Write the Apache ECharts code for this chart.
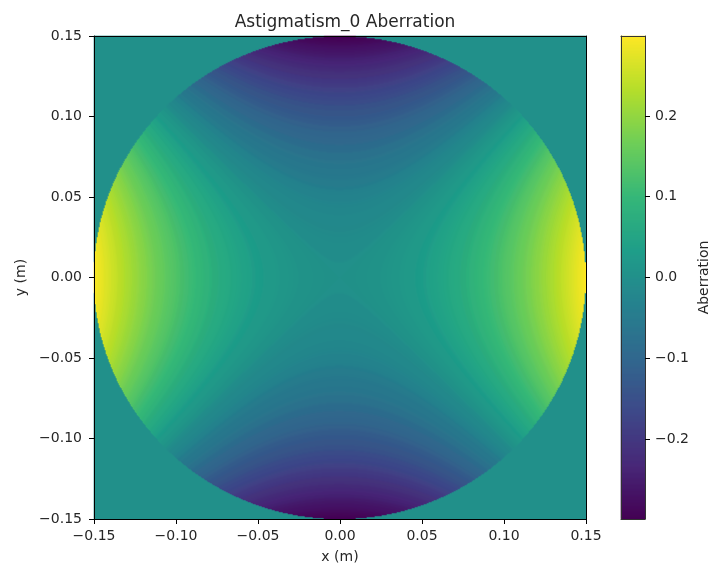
<!DOCTYPE html>
<html>
<head>
<meta charset="utf-8">
<script src="https://cdn.jsdelivr.net/npm/echarts@6/dist/echarts.min.js"></script>
<style>
  html, body { margin: 0; padding: 0; background: #fff; }
  #chart { width: 715px; height: 571px; }
</style>
</head>
<body>
<div id="chart"></div>
<script>
// Aperture and astigmatism term
const apertureRadius = 0.15;          // m
const astigmatismPeak = 0.299;        // aberration at the rim along x
const colorMin = -0.299;
const colorMax = 0.299;
const samplesX = 492;                 // samples across x in [-0.15, 0.15]
const samplesY = 483;                 // samples across y in [-0.15, 0.15]

// Tick labels
const xTicks = [-0.15, -0.10, -0.05, 0.00, 0.05, 0.10, 0.15];
const yTicks = [-0.15, -0.10, -0.05, 0.00, 0.05, 0.10, 0.15];
const colorbarTicks = [-0.2, -0.1, 0.0, 0.1, 0.2];

// viridis, evenly spaced stops
const viridis = ['#440154', '#482878', '#3e4989', '#31688e', '#26828e',
                 '#1f9e89', '#35b779', '#6ece58', '#b5de2b', '#fde725'];

const FONT = 'DejaVu Sans';
const TEXT = '#262626';
const minus = s => s.replace('-', '\u2212');

// Sample the astigmatism surface (x^2 - y^2) over the circular pupil
const stepX = 2 * apertureRadius / samplesX;
const stepY = 2 * apertureRadius / samplesY;
const R2 = apertureRadius * apertureRadius;
const xIdx = [];
for (let i = 0; i < samplesX; i++) xIdx.push(i);
const yIdx = [];
for (let j = 0; j < samplesY; j++) yIdx.push(j);
const fieldData = [];
for (let i = 0; i < samplesX; i++) {
  const x = -apertureRadius + (i + 0.5) * stepX;
  for (let j = 0; j < samplesY; j++) {
    const y = -apertureRadius + (j + 0.5) * stepY;
    const r2 = x * x + y * y;
    const v = r2 <= R2 ? astigmatismPeak * (x * x - y * y) / R2 : 0;
    fieldData.push([i, j, v]);
  }
}

// Colorbar column
const barSamples = 483;
const barIdx = [];
const barData = [];
for (let k = 0; k < barSamples; k++) {
  barIdx.push(k);
  barData.push([0, k, colorMin + (k + 0.5) * (colorMax - colorMin) / barSamples]);
}

const axisLineStyle = { show: true, onZero: false, lineStyle: { color: '#000', width: 1 } };
const barLineStyle = { show: true, onZero: false, lineStyle: { color: '#333', width: 1 } };
const tickStyle = { show: true, length: 5, lineStyle: { color: '#000', width: 1 } };
const labelFont = { fontFamily: FONT, fontSize: 14, color: TEXT };

const chart = echarts.init(document.getElementById('chart'), null, { renderer: 'canvas' });
chart.setOption({
  animation: false,
  backgroundColor: '#fff',
  title: {
    text: 'Astigmatism_0 Aberration',
    left: 340, top: 9, textAlign: 'center',
    textStyle: { fontFamily: FONT, fontSize: 17, fontWeight: 'normal', color: TEXT }
  },
  grid: [
    { left: 94, top: 36, width: 492, height: 483 },
    { left: 621, top: 36, width: 24, height: 483 }
  ],
  visualMap: {
    show: false, type: 'continuous', min: colorMin, max: colorMax,
    seriesIndex: [0, 1], dimension: 2,
    inRange: { color: viridis }
  },
  xAxis: [
    { type: 'category', gridIndex: 0, data: xIdx, show: false },
    { type: 'value', gridIndex: 0, min: -0.15, max: 0.15, position: 'bottom', z: 10,
      axisLine: axisLineStyle,
      axisTick: { ...tickStyle, customValues: xTicks },
      axisLabel: { ...labelFont, margin: 10, customValues: xTicks,
                   formatter: v => minus(v.toFixed(2)) },
      splitLine: { show: false },
      name: 'x (m)', nameLocation: 'middle', nameGap: 31,
      nameTextStyle: labelFont },
    { type: 'value', gridIndex: 0, min: -0.15, max: 0.15, position: 'top', z: 10,
      axisLine: axisLineStyle, axisTick: { show: false }, axisLabel: { show: false },
      splitLine: { show: false } },
    { type: 'category', gridIndex: 1, data: [0], show: false },
    { type: 'value', gridIndex: 1, min: 0, max: 1, position: 'bottom', z: 10,
      axisLine: barLineStyle,
      axisTick: { show: false }, axisLabel: { show: false }, splitLine: { show: false } },
    { type: 'value', gridIndex: 1, min: 0, max: 1, position: 'top', z: 10,
      axisLine: barLineStyle,
      axisTick: { show: false }, axisLabel: { show: false }, splitLine: { show: false } }
  ],
  yAxis: [
    { type: 'category', gridIndex: 0, data: yIdx, show: false },
    { type: 'value', gridIndex: 0, min: -0.15, max: 0.15, position: 'left', z: 10,
      axisLine: axisLineStyle,
      axisTick: { ...tickStyle, customValues: yTicks },
      axisLabel: { ...labelFont, margin: 12, customValues: yTicks,
                   formatter: v => minus(v.toFixed(2)) },
      splitLine: { show: false },
      name: 'y (m)', nameLocation: 'middle', nameGap: 66, nameRotate: 90,
      nameTextStyle: labelFont },
    { type: 'value', gridIndex: 0, min: -0.15, max: 0.15, position: 'right', z: 10,
      axisLine: axisLineStyle, axisTick: { show: false }, axisLabel: { show: false },
      splitLine: { show: false } },
    { type: 'category', gridIndex: 1, data: barIdx, show: false },
    { type: 'value', gridIndex: 1, min: colorMin, max: colorMax, position: 'right', z: 10,
      axisLine: barLineStyle,
      axisTick: { show: true, length: 5, customValues: colorbarTicks,
                  lineStyle: { color: '#000', width: 1 } },
      axisLabel: { ...labelFont, margin: 10, customValues: colorbarTicks,
                   formatter: v => minus(v.toFixed(1)) },
      splitLine: { show: false },
      name: 'Aberration', nameLocation: 'middle', nameGap: 52, nameRotate: 90,
      nameTextStyle: labelFont },
    { type: 'value', gridIndex: 1, min: colorMin, max: colorMax, position: 'left', z: 10,
      axisLine: barLineStyle,
      axisTick: { show: false }, axisLabel: { show: false }, splitLine: { show: false } }
  ],
  series: [
    { type: 'heatmap', xAxisIndex: 0, yAxisIndex: 0, data: fieldData,
      progressive: 0, itemStyle: { borderWidth: 0 }, emphasis: { disabled: true } },
    { type: 'heatmap', xAxisIndex: 3, yAxisIndex: 3, data: barData,
      progressive: 0, itemStyle: { borderWidth: 0 }, emphasis: { disabled: true } }
  ]
});
</script>
</body>
</html>
